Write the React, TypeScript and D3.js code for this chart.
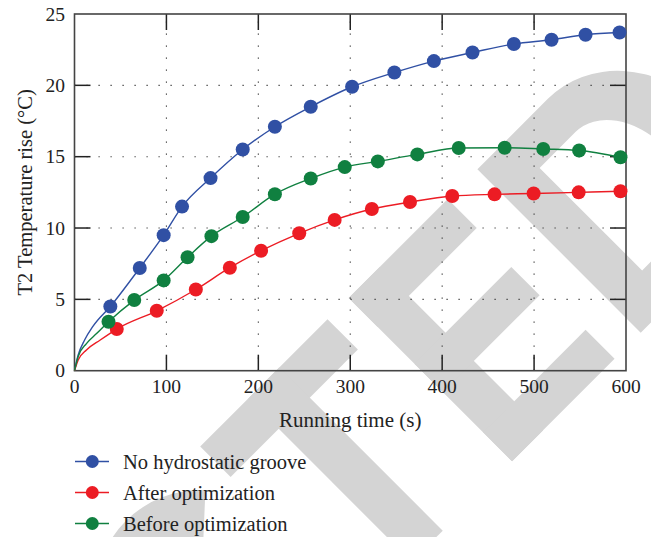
import React from "react";
import * as d3 from "d3";

// Running time (s) at each measured point, and the matching T2 temperature rise (°C)
const noGrooveTime = [39, 71, 97, 117, 148, 183, 218, 257, 302, 348, 391, 433, 478, 519, 556, 593];
const noGrooveRise = [4.5, 7.2, 9.5, 11.5, 13.5, 15.5, 17.1, 18.5, 19.9, 20.9, 21.7, 22.3, 22.9, 23.2, 23.55, 23.7];

const afterTime = [46, 89.5, 132, 169, 203, 244.5, 283, 323.5, 365, 411, 457, 499.5, 548.5, 594];
const afterRise = [2.92, 4.2, 5.69, 7.22, 8.41, 9.63, 10.57, 11.33, 11.82, 12.24, 12.36, 12.42, 12.5, 12.58];

const beforeTime = [37, 65, 97, 123, 149, 183, 218, 257, 294, 330, 373, 418, 468, 510, 549, 594];
const beforeRise = [3.43, 4.95, 6.33, 7.95, 9.43, 10.77, 12.37, 13.47, 14.27, 14.67, 15.16, 15.61, 15.63, 15.54, 15.43, 14.96];

// start-up portion of each fitted curve, before the first measured point
const noGrooveStart: [number, number][] = [[0, 0], [4, 1.1], [11, 2.15], [20, 3.1]];
const afterStart: [number, number][] = [[0, 0], [4, 0.75], [13, 1.45], [28, 2.15]];
const beforeStart: [number, number][] = [[0, 0], [4, 1.0], [13, 1.9], [24, 2.6]];

const xTicks = [0, 100, 200, 300, 400, 500, 600];
const yTicks = [0, 5, 10, 15, 20, 25];

const seriesNames = ["No hydrostatic groove", "After optimization", "Before optimization"];
const seriesColors = ["#3050a4", "#ec1c24", "#108040"];

const FONT = "'Liberation Serif', 'Times New Roman', serif";

const series = [
  { name: seriesNames[0], color: seriesColors[0], t: noGrooveTime, v: noGrooveRise, start: noGrooveStart },
  { name: seriesNames[1], color: seriesColors[1], t: afterTime, v: afterRise, start: afterStart },
  { name: seriesNames[2], color: seriesColors[2], t: beforeTime, v: beforeRise, start: beforeStart },
];

// Big grey stamp lettering behind the plot, drawn in a rotated letter frame
function Stamp() {
  const g = "#d4d4d4";
  const cx = -315, cy = 118, ox = 110, oy = 118, ix = 60, iy = 72;
  const a = (45 * Math.PI) / 180;
  const cPath =
    `M${cx + ox * Math.cos(a)},${cy - oy * Math.sin(a)} ` +
    `A${ox},${oy} 0 1 0 ${cx + ox * Math.cos(a)},${cy + oy * Math.sin(a)} ` +
    `L${cx + ix * Math.cos(a)},${cy + iy * Math.sin(a)} ` +
    `A${ix},${iy} 0 1 1 ${cx + ix * Math.cos(a)},${cy - iy * Math.sin(a)} Z`;
  return (
    <g transform="translate(348.7,298) rotate(-45)" fill={g}>
      <path d={cPath} />
      {/* T */}
      <rect x={-210} y={0} width={180} height={43} />
      <rect x={-142} y={0} width={44} height={231} />
      {/* E */}
      <rect x={0} y={0} width={44} height={231} />
      <rect x={0} y={0} width={140} height={41} />
      <rect x={0} y={93} width={137} height={40} />
      <rect x={0} y={190} width={145} height={41} />
      {/* D */}
      <path
        fillRule="evenodd"
        d="M182,0 H282 A103,115.5 0 0 1 282,231 H182 Z M227,43 H278 A52,72.5 0 0 1 278,188 H227 Z"
      />
    </g>
  );
}

export default function App() {
  const x = d3.scaleLinear().domain([0, 600]).range([74.5, 626]);
  const y = d3.scaleLinear().domain([0, 25]).range([370.7, 14]);
  const [x0, x1] = x.range();
  const [y0, y1] = y.range();

  const line = d3
    .line<[number, number]>()
    .x((d) => x(d[0]))
    .y((d) => y(d[1]))
    .curve(d3.curveMonotoneX);

  const legendY = [461.5, 492.5, 523.5];

  return (
    <svg
      width={651}
      height={537}
      style={{ position: "absolute", left: 0, top: 0, background: "#fff" }}
      fontFamily={FONT}
    >
      <rect width={651} height={537} fill="#fff" />
      <Stamp />

      {/* dotted grid */}
      <g stroke="#333" strokeWidth={1.1} strokeDasharray="1.2 10.8">
        {xTicks.slice(1, -1).map((t) => (
          <line key={"gx" + t} x1={x(t)} x2={x(t)} y1={y0} y2={y1} />
        ))}
        {yTicks.slice(1, -1).map((v) => (
          <line key={"gy" + v} x1={x0} x2={x1} y1={y(v)} y2={y(v)} />
        ))}
      </g>

      {/* inward ticks on all four sides */}
      <g stroke="#222" strokeWidth={1.5}>
        {xTicks.slice(1, -1).map((t) => (
          <g key={"tx" + t}>
            <line x1={x(t)} x2={x(t)} y1={y0} y2={y0 - 16} />
            <line x1={x(t)} x2={x(t)} y1={y1} y2={y1 + 16} />
          </g>
        ))}
        {yTicks.slice(1, -1).map((v) => (
          <g key={"ty" + v}>
            <line x1={x0} x2={x0 + 16} y1={y(v)} y2={y(v)} />
            <line x1={x1} x2={x1 - 16} y1={y(v)} y2={y(v)} />
          </g>
        ))}
      </g>

      {/* frame */}
      <rect x={x0} y={y1} width={x1 - x0} height={y0 - y1} fill="none" stroke="#444" strokeWidth={1.6} />

      {/* curves and markers */}
      {series.map((s) => {
        const pts: [number, number][] = [...s.start, ...s.t.map((t, i) => [t, s.v[i]] as [number, number])];
        return (
          <g key={s.name}>
            <path d={line(pts) || ""} fill="none" stroke={s.color} strokeWidth={1.4} />
            {s.t.map((t, i) => (
              <circle key={i} cx={x(t)} cy={y(s.v[i])} r={7} fill={s.color} />
            ))}
          </g>
        );
      })}

      {/* tick labels */}
      <g fontSize={19.5} fill="#222">
        {xTicks.map((t) => (
          <text key={"lx" + t} x={x(t)} y={393} textAnchor="middle">
            {t}
          </text>
        ))}
        {yTicks.map((v) => (
          <text key={"ly" + v} x={65} y={y(v) + 6.5} textAnchor="end">
            {v}
          </text>
        ))}
      </g>

      {/* axis titles */}
      <text x={(x0 + x1) / 2} y={427} textAnchor="middle" fontSize={21} fill="#222">
        Running time (s)
      </text>
      <text
        transform={`translate(32,${(y0 + y1) / 2}) rotate(-90)`}
        textAnchor="middle"
        fontSize={20.5}
        fill="#222"
      >
        T2 Temperature rise (°C)
      </text>

      {/* legend */}
      {series.map((s, i) => (
        <g key={"lg" + i} transform={`translate(0,${legendY[i]})`}>
          <line x1={75} x2={109} y1={0} y2={0} stroke={s.color} strokeWidth={1.4} />
          <circle cx={92.3} cy={0} r={6.5} fill={s.color} />
          <text x={123} y={7} fontSize={20.5} fill="#222">
            {s.name}
          </text>
        </g>
      ))}
    </svg>
  );
}
